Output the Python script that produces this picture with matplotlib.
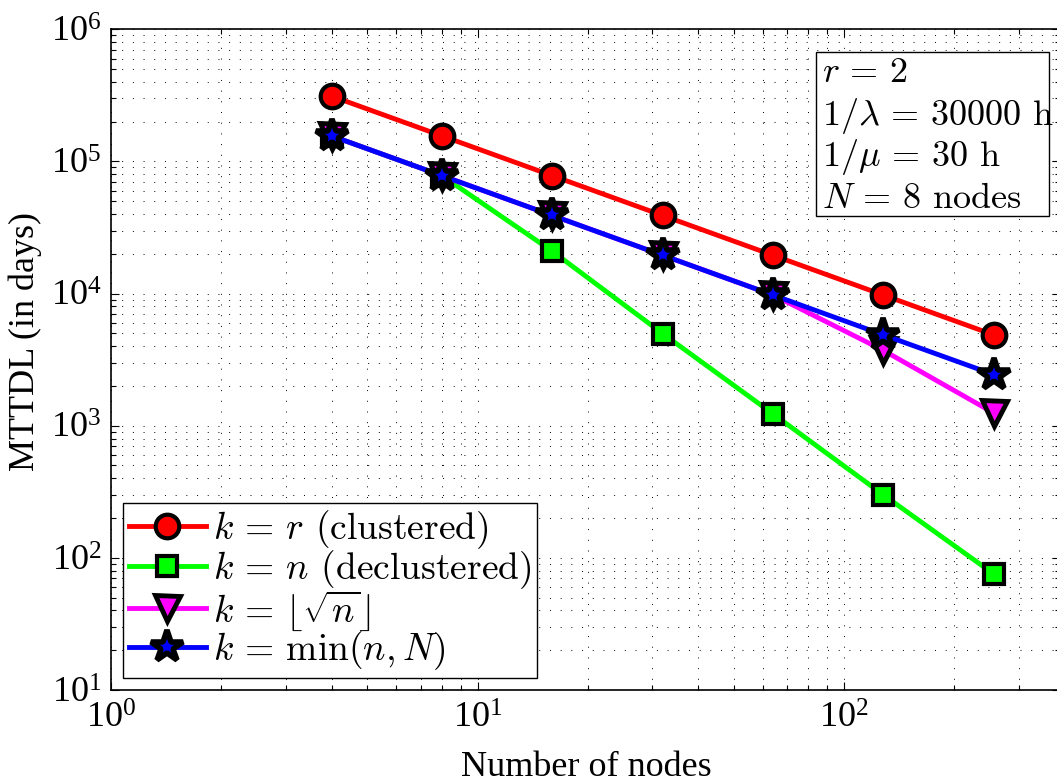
import matplotlib
matplotlib.use('Agg')
import matplotlib.pyplot as plt
from matplotlib.patches import Rectangle

# MTTDL vs. cluster size for the four placement strategies
nodes = [4, 8, 16, 32, 64, 128, 256]
mttdl_clustered = [3.12e5, 1.56e5, 7.8e4, 3.9e4, 1.95e4, 9.75e3, 4.87e3]
mttdl_declustered = [1.56e5, 7.8e4, 2.09e4, 4.98e3, 1.23e3, 300, 75.6]
mttdl_sqrt = [1.56e5, 7.8e4, 3.9e4, 1.95e4, 9.75e3, 3.72e3, 1.25e3]
mttdl_min = [1.56e5, 7.8e4, 3.9e4, 1.95e4, 9.75e3, 4.87e3, 2.44e3]

series_labels = [r'$k\,=\,r$ (clustered)',
                 r'$k\,=\,n$ (declustered)',
                 r'$k\,=\,\lfloor\sqrt{n}\rfloor$',
                 r'$k\,=\,\min(n, N)$']
params_text = [r'$r\,=\,2$',
               r'$1/\lambda\,=\,30000$ h',
               r'$1/\mu\,=\,30$ h',
               r'$N\,=\,8$ nodes']

plt.rcParams['font.family'] = 'Liberation Serif'
plt.rcParams['mathtext.fontset'] = 'custom'
plt.rcParams['mathtext.rm'] = 'Liberation Serif'
plt.rcParams['mathtext.it'] = 'Liberation Serif:italic'

W, H = 1057, 783
fig = plt.figure(figsize=(W / 100, H / 100), dpi=100)
ax = fig.add_axes([111 / W, 1 - 690 / H, (1060 - 111) / W, (690 - 29.3) / H])

# data, colour, marker, size, edge width
styles = [
    (mttdl_clustered, 'r', 'o', 17, 3),
    (mttdl_declustered, '#00ff00', 's', 14, 3),
    (mttdl_sqrt, '#ff00ff', 'v', 18, 3.5),
    (mttdl_min, 'b', '*', 24, 4),
]
for (vals, col, mk, ms, mew), lab in zip(styles, series_labels):
    ax.plot(nodes, vals, color=col, lw=3.5, marker=mk, ms=ms,
            mfc=col, mec='k', mew=mew, label=lab)

ax.set_xscale('log')
ax.set_yscale('log')
ax.set_xlim(1, 10 ** (949 / 366.5))
ax.set_ylim(10, 1e6)

ax.grid(True, which='both', color='k', linestyle=(0, (1, 10)), linewidth=0.7)
ax.tick_params(which='both', direction='in', top=True, right=True, width=0.8)
ax.tick_params(which='major', length=6, labelsize=26)
ax.tick_params(which='minor', length=3.5)
ax.tick_params(axis='x', pad=9)
ax.tick_params(axis='y', pad=7)
for s in ax.spines.values():
    s.set_linewidth(1.2)

ax.set_xlabel('Number of nodes', fontsize=26)
ax.set_ylabel('MTTDL (in days)', fontsize=26)
ax.xaxis.set_label_coords(0.5005, -0.092)
ax.yaxis.set_label_coords(-0.073, 0.527)

# legend and parameter box use Computer Modern like the LaTeX labels
leg = ax.legend(loc='lower left', bbox_to_anchor=(123 / W, 1 - 678 / H),
                bbox_transform=fig.transFigure, borderaxespad=0,
                fancybox=False, edgecolor='k', framealpha=1,
                prop={'family': 'cmr10', 'size': 27},
                handlelength=2.05, handletextpad=0.2, borderpad=0.15,
                labelspacing=-0.08, numpoints=1)
leg.get_frame().set_linewidth(1.0)
for t in leg.get_texts():
    t.set_math_fontfamily('cm')

fig.add_artist(Rectangle((816 / W, 1 - 216 / H), (1049 - 816) / W, (216 - 52) / H,
                         transform=fig.transFigure, fc='white', ec='k', lw=1.0))
for txt, base in zip(params_text, [82, 125, 166, 208]):
    fig.text(822 / W, 1 - base / H, txt, family='cmr10', fontsize=26,
             ha='left', va='baseline', math_fontfamily='cm', zorder=5)

fig.savefig('out.png', dpi=100)
